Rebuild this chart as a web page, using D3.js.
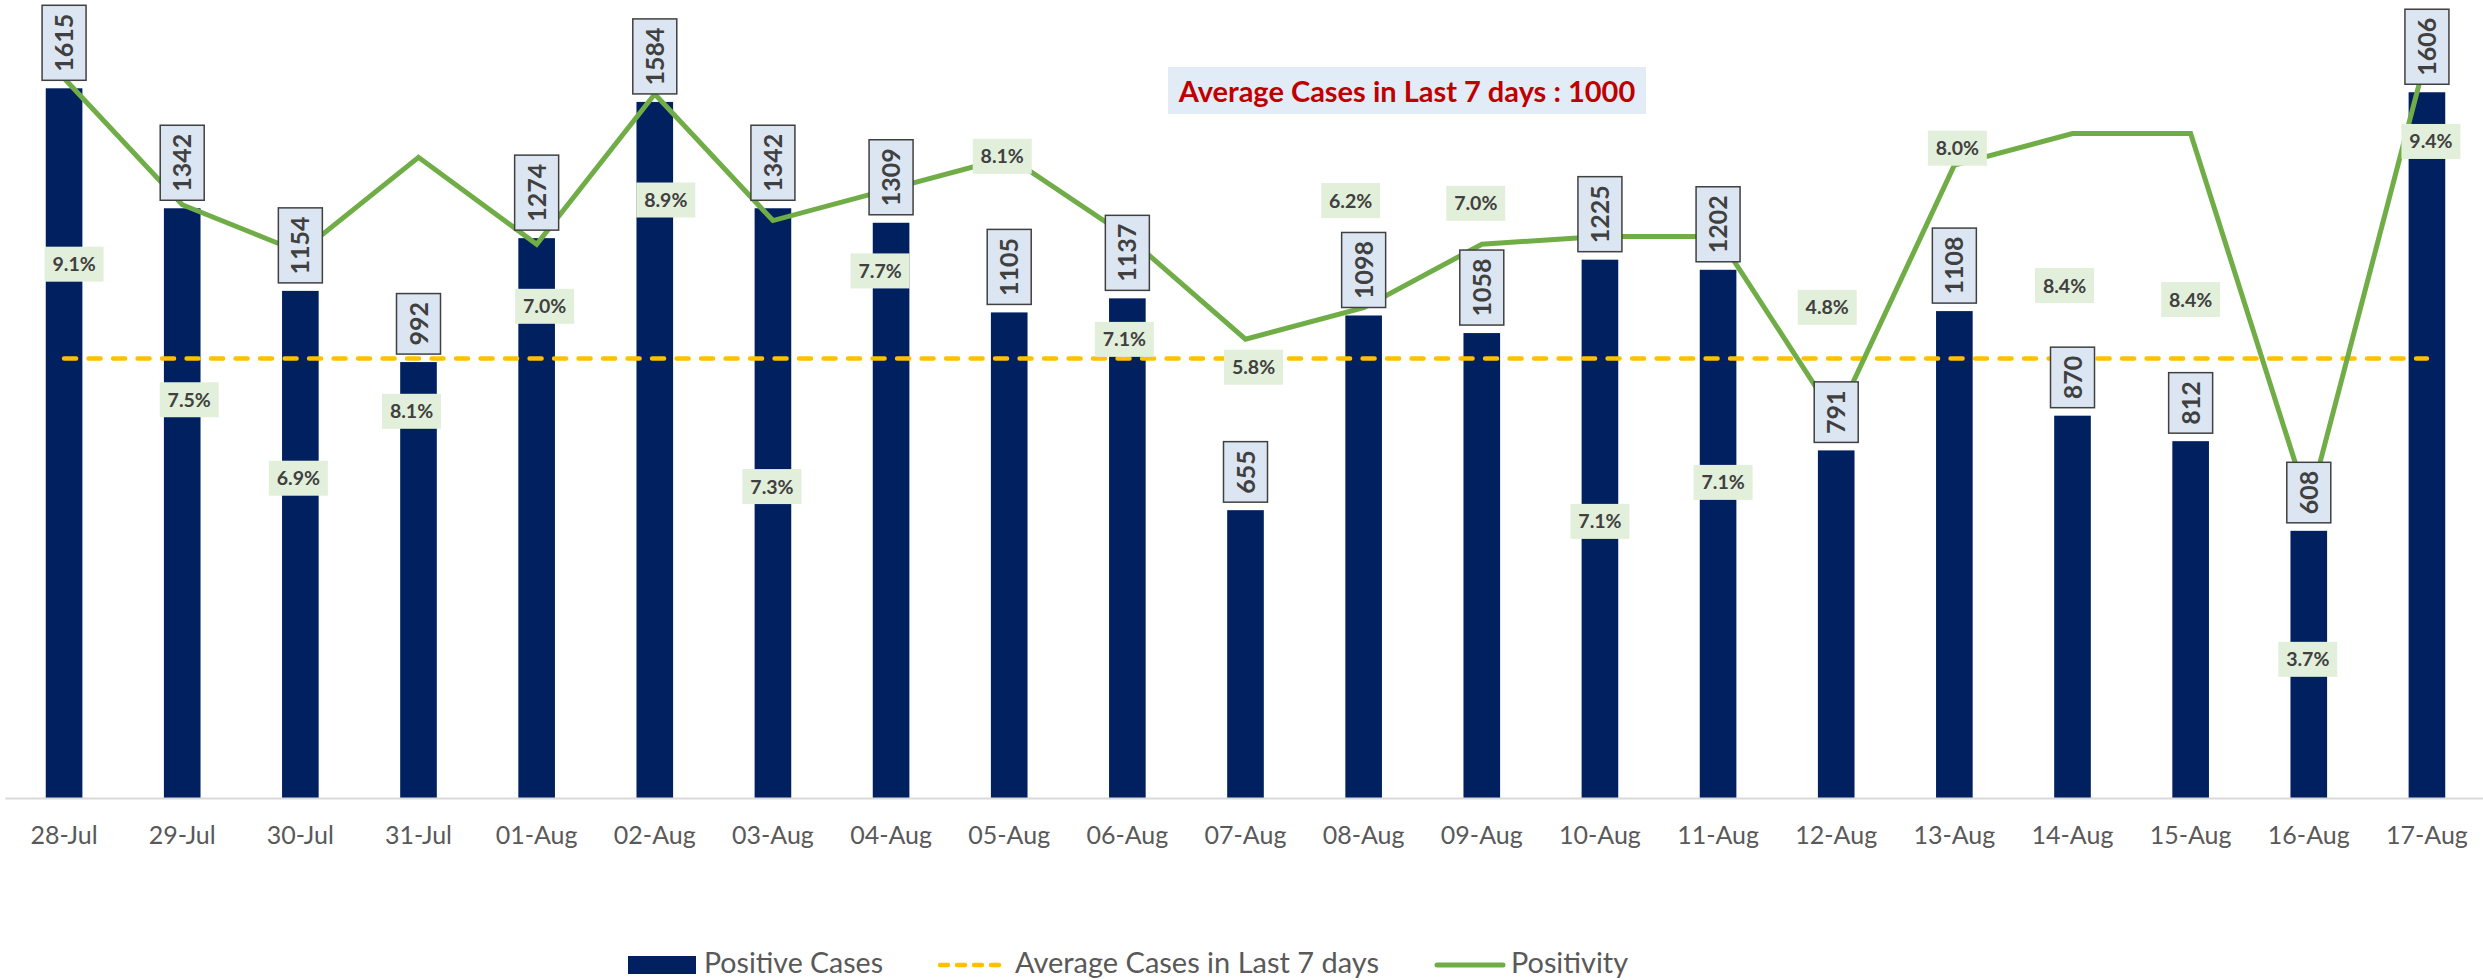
<!DOCTYPE html>
<html>
<head>
<meta charset="utf-8">
<script src="https://cdn.jsdelivr.net/npm/d3@7"></script>
<style>
  html, body { margin: 0; padding: 0; background: #ffffff; }
  svg { display: block; font-family: Lato, "Open Sans", sans-serif; }
</style>
</head>
<body>
<script>
// ---------------- DATA ----------------
const dates = ["28-Jul","29-Jul","30-Jul","31-Jul","01-Aug","02-Aug","03-Aug","04-Aug","05-Aug","06-Aug","07-Aug",
               "08-Aug","09-Aug","10-Aug","11-Aug","12-Aug","13-Aug","14-Aug","15-Aug","16-Aug","17-Aug"];
const positiveCases = [1615,1342,1154,992,1274,1584,1342,1309,1105,1137,655,1098,1058,1225,1202,791,1108,870,812,608,1606];
const positivity = [9.1,7.5,6.9,8.1,7.0,8.9,7.3,7.7,8.1,7.1,5.8,6.2,7.0,7.1,7.1,4.8,8.0,8.4,8.4,3.7,9.4]; // percent
const avgCases = 1000;
const avgTitle = "Average Cases in Last 7 days : " + avgCases;
const legendLabels = ["Positive Cases", "Average Cases in Last 7 days", "Positivity"];
const casesAxisMax = 1800;
const positivityAxisMax = 10; // percent

// ---------------- LAYOUT (label placement offsets, px from line point) ----------------
const pctLabelOffsets = [[10,186],[7,195],[-2,226],[-7,254],[8,62],[11,106],[-1,266],[-11,82],[-7,-1],[-3,103],[8,28],
                         [-13,-107],[-6,-41],[0,285],[5,246],[-9,-111],[3,-17],[-8,152],[0,166],[-1,154],[4,87]];
const legendTextX = [704, 1015, 1511];
const legendTextW = [179, 364, 117];

const W = 2483, H = 980;
const plotTop = 7, plotBottom = 798;

const svg = d3.select("body").append("svg").attr("width", W).attr("height", H);

const x = d3.scaleBand().domain(dates).range([5, 2486]).paddingInner(0.69).paddingOuter(0.345);
const cx = d => x(d) + x.bandwidth() / 2;
const y = d3.scaleLinear().domain([0, casesAxisMax]).range([plotBottom, plotTop]);
const y2 = d3.scaleLinear().domain([0, positivityAxisMax]).range([plotBottom, plotTop]);

// bars
svg.append("g").selectAll("rect").data(dates).join("rect")
  .attr("x", d => x(d)).attr("width", x.bandwidth())
  .attr("y", (d, i) => y(positiveCases[i]))
  .attr("height", (d, i) => y(0) - y(positiveCases[i]))
  .attr("fill", "#002060");

// x axis
const xAxis = svg.append("g").attr("transform", `translate(0,${plotBottom})`)
  .call(d3.axisBottom(x).tickSizeInner(0).tickSizeOuter(0).tickPadding(28));
xAxis.select(".domain").attr("stroke", "#d9d9d9").attr("stroke-width", 2);
xAxis.selectAll("text").attr("font-family", "Lato, sans-serif").attr("font-size", 25).attr("fill", "#595959");

// average line
svg.append("line")
  .attr("x1", cx(dates[0])).attr("x2", cx(dates[dates.length - 1]))
  .attr("y1", y(avgCases)).attr("y2", y(avgCases))
  .attr("stroke", "#ffc000").attr("stroke-width", 4.5)
  .attr("stroke-dasharray", "12,12.5").attr("stroke-linecap", "round");

// positivity line
const line = d3.line().x((d, i) => cx(dates[i])).y(d => y2(d));
svg.append("path").datum(positivity).attr("d", line)
  .attr("fill", "none").attr("stroke", "#70ad47").attr("stroke-width", 5).attr("stroke-linejoin", "miter");

// positivity labels
const pl = svg.append("g").selectAll("g").data(positivity).join("g")
  .attr("transform", (d, i) => `translate(${cx(dates[i]) + pctLabelOffsets[i][0]},${y2(d) + pctLabelOffsets[i][1]})`);
pl.append("rect").attr("x", -29.5).attr("y", -17.5).attr("width", 59).attr("height", 35).attr("fill", "#e2efda");
pl.append("text").attr("text-anchor", "middle").attr("dy", "0.36em")
  .attr("font-size", 19.5).attr("font-weight", 700).attr("fill", "#404040")
  .text(d => d3.format(".1f")(d) + "%");

// bar value labels (rotated, boxed)
const bl = svg.append("g").selectAll("g").data(positiveCases).join("g");
bl.each(function(v, i) {
  const g = d3.select(this);
  const bottom = y(v) - 8;
  const c = cx(dates[i]);
  const t = g.append("text")
    .attr("transform", `translate(${c},${bottom - 8.5}) rotate(-90)`)
    .attr("dy", "0.36em").attr("font-size", 25).attr("font-weight", 700).attr("fill", "#404040")
    .text(d3.format("d")(v));
  const len = t.node().getComputedTextLength();
  const h = len + 17;
  g.insert("rect", "text").attr("x", c - 22).attr("y", bottom - h).attr("width", 44).attr("height", h)
    .attr("fill", "#dce6f2").attr("stroke", "#404040").attr("stroke-width", 1.5);
});

// title box
const tg = svg.append("g");
tg.append("rect").attr("x", 1168).attr("y", 67).attr("width", 478).attr("height", 47).attr("fill", "#e2ecf7");
tg.append("text").attr("x", 1407).attr("y", 102).attr("text-anchor", "middle")
  .attr("font-size", 29).attr("font-weight", 700).attr("fill", "#c00000").text(avgTitle);

// legend
const lg = svg.append("g").attr("font-size", 28).attr("fill", "#595959");
lg.append("rect").attr("x", 628).attr("y", 956).attr("width", 68).attr("height", 18).attr("fill", "#002060");
lg.append("line").attr("x1", 940).attr("x2", 1002).attr("y1", 965).attr("y2", 965)
  .attr("stroke", "#ffc000").attr("stroke-width", 4.5).attr("stroke-dasharray", "8,9").attr("stroke-linecap", "round");
lg.append("line").attr("x1", 1437).attr("x2", 1503).attr("y1", 965).attr("y2", 965)
  .attr("stroke", "#70ad47").attr("stroke-width", 5).attr("stroke-linecap", "round");
lg.selectAll("text").data(legendLabels).join("text")
  .attr("x", (d, i) => legendTextX[i]).attr("y", 973)
  .attr("textLength", (d, i) => legendTextW[i]).attr("lengthAdjust", "spacingAndGlyphs")
  .text(d => d);
</script>
</body>
</html>
